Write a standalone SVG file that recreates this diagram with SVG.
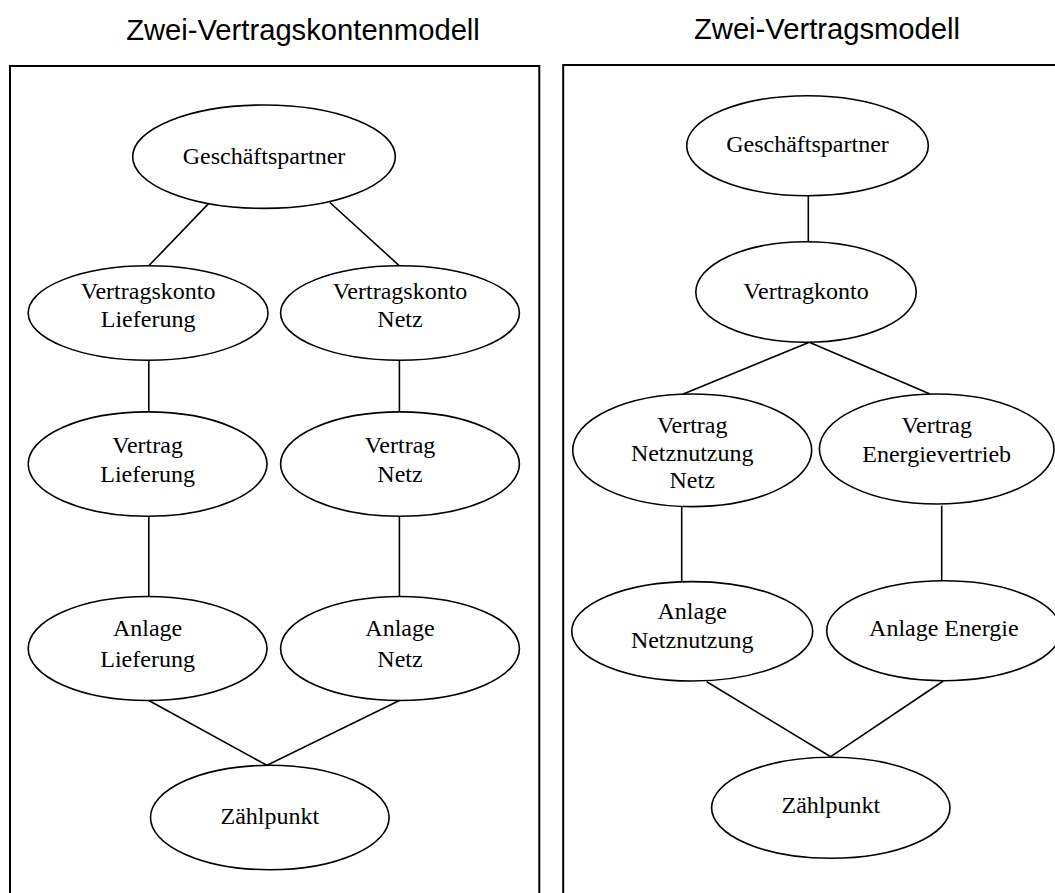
<svg xmlns="http://www.w3.org/2000/svg" width="1055" height="893" viewBox="0 0 1055 893">
<style>
.frame{fill:none;stroke:#000;stroke-width:2}
.node ellipse{fill:#fff;stroke:#000;stroke-width:1.6}
.node text{font-family:"Liberation Serif","Times New Roman",serif;font-size:24px;fill:#000;text-anchor:middle}
.title{font-family:"Liberation Sans",Arial,sans-serif;font-size:29.2px;fill:#000;text-anchor:middle}
#connectors line{stroke:#000;stroke-width:1.6}
</style>
<rect width="1055" height="893" fill="#fff"/>
<text class="title" x="303" y="39.5">Zwei-Vertragskontenmodell</text>
<text class="title" x="827" y="39">Zwei-Vertragsmodell</text>
<rect class="frame" x="10" y="66" width="529.3" height="900"/>
<rect class="frame" x="563.2" y="65" width="520" height="900"/>
<g id="connectors">
<line x1="208.3" y1="203.9" x2="148.8" y2="265.8"/>
<line x1="329.9" y1="202.5" x2="399.4" y2="265.8"/>
<line x1="148.8" y1="360" x2="148.8" y2="412"/>
<line x1="399.4" y1="360" x2="399.4" y2="412"/>
<line x1="148.8" y1="516" x2="148.8" y2="597"/>
<line x1="399.4" y1="516" x2="399.4" y2="597"/>
<line x1="148.8" y1="700.5" x2="266.9" y2="765.3"/>
<line x1="399.4" y1="700.5" x2="266.9" y2="765.3"/>
<line x1="808.3" y1="195.7" x2="808.3" y2="241.7"/>
<line x1="809.3" y1="342.3" x2="683.3" y2="394"/>
<line x1="809.3" y1="342.3" x2="930" y2="394"/>
<line x1="681.7" y1="506.7" x2="681.7" y2="581.7"/>
<line x1="941.7" y1="505.7" x2="941.7" y2="581"/>
<line x1="706.7" y1="681.7" x2="830.7" y2="756.7"/>
<line x1="943.3" y1="681" x2="830.7" y2="756.7"/>
</g>
<g id="l-gp" class="node"><ellipse cx="264" cy="156.7" rx="131.3" ry="51.7"/><text x="264" y="163.6">Geschäftspartner</text></g>
<g id="l-vkl" class="node"><ellipse cx="148.1" cy="313" rx="119.9" ry="47.2"/><text x="148.1" y="299">Vertragskonto</text><text x="148.1" y="327.3">Lieferung</text></g>
<g id="l-vkn" class="node"><ellipse cx="400" cy="313" rx="119.4" ry="47.2"/><text x="400" y="299">Vertragskonto</text><text x="400" y="327.3">Netz</text></g>
<g id="l-vl" class="node"><ellipse cx="147.6" cy="464.1" rx="119.4" ry="52.2"/><text x="147.6" y="453.2">Vertrag</text><text x="147.6" y="481.8">Lieferung</text></g>
<g id="l-vn" class="node"><ellipse cx="400" cy="464.1" rx="119.4" ry="52.2"/><text x="400" y="453.2">Vertrag</text><text x="400" y="481.8">Netz</text></g>
<g id="l-al" class="node"><ellipse cx="147.6" cy="648.5" rx="119.4" ry="52"/><text x="147.6" y="636.2">Anlage</text><text x="147.6" y="667">Lieferung</text></g>
<g id="l-an" class="node"><ellipse cx="400" cy="648.5" rx="119.4" ry="52"/><text x="400" y="636.2">Anlage</text><text x="400" y="667">Netz</text></g>
<g id="l-zp" class="node"><ellipse cx="269.8" cy="817.5" rx="119.3" ry="52.2"/><text x="269.8" y="823.8">Zählpunkt</text></g>
<g id="r-gp" class="node"><ellipse cx="807.5" cy="145.7" rx="120.8" ry="50"/><text x="807.5" y="151.7">Geschäftspartner</text></g>
<g id="r-vk" class="node"><ellipse cx="806" cy="292" rx="110.2" ry="50.3"/><text x="806" y="299">Vertragkonto</text></g>
<g id="r-vnn" class="node"><ellipse cx="692.2" cy="450.3" rx="119.5" ry="56.3"/><text x="692.2" y="433.3">Vertrag</text><text x="692.2" y="460.7">Netznutzung</text><text x="692.2" y="488.3">Netz</text></g>
<g id="r-ve" class="node"><ellipse cx="936.7" cy="449" rx="117.3" ry="55"/><text x="936.7" y="433.3">Vertrag</text><text x="936.7" y="461.7">Energievertrieb</text></g>
<g id="r-an" class="node"><ellipse cx="692.2" cy="631.3" rx="120.5" ry="49.7"/><text x="692.2" y="619.3">Anlage</text><text x="692.2" y="648.3">Netznutzung</text></g>
<g id="r-ae" class="node"><ellipse cx="943.8" cy="630.7" rx="117.1" ry="50"/><text x="943.8" y="636">Anlage Energie</text></g>
<g id="r-zp" class="node"><ellipse cx="830.8" cy="807.8" rx="119.2" ry="50.5"/><text x="830.8" y="813.3">Zählpunkt</text></g>
</svg>
